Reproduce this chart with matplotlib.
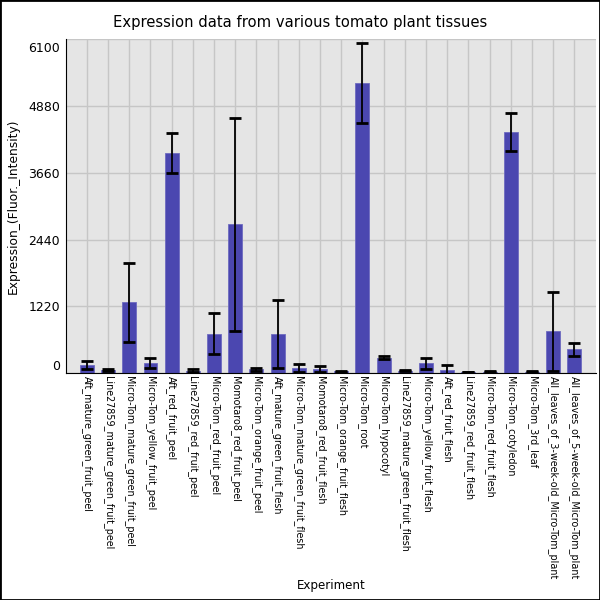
import matplotlib
matplotlib.use("Agg")
import matplotlib.pyplot as plt
import matplotlib.transforms as mtransforms
from matplotlib.patches import Rectangle
import numpy as np

# tissues, mean expression and error
tissues = [
    "Aft_mature_green_fruit_peel",
    "Line27859_mature_green_fruit_peel",
    "Micro-Tom_mature_green_fruit_peel",
    "Micro-Tom_yellow_fruit_peel",
    "Aft_red_fruit_peel",
    "Line27859_red_fruit_peel",
    "Micro-Tom_red_fruit_peel",
    "Momotaro8_red_fruit_peel",
    "Micro-Tom_orange_fruit_peel",
    "Aft_mature_green_fruit_flesh",
    "Micro-Tom_mature_green_fruit_flesh",
    "Momotaro8_red_fruit_flesh",
    "Micro-Tom_orange_fruit_flesh",
    "Micro-Tom_root",
    "Micro-Tom_hypocotyl",
    "Line27859_mature_green_fruit_flesh",
    "Micro-Tom_yellow_fruit_flesh",
    "Aft_red_fruit_flesh",
    "Line27859_red_fruit_flesh",
    "Micro-Tom_red_fruit_flesh",
    "Micro-Tom_cotyledon",
    "Micro-Tom_3rd_leaf",
    "All_leaves_of_3-week-old_Micro-Tom_plant",
    "All_leaves_of_5-week-old_Micro-Tom_plant",
]
means = [150, 60, 1290, 190, 4020, 45, 720, 2720, 70, 720, 90, 75,
         30, 5300, 280, 40, 175, 55, 18, 22, 4400, 24, 760, 430]
errors = [75, 15, 720, 90, 360, 20, 370, 1950, 25, 620, 70, 55,
          10, 730, 25, 10, 105, 85, 6, 6, 350, 5, 720, 115]
yticks = [0, 1220, 2440, 3660, 4880, 6100]

fig = plt.figure(figsize=(6, 6), dpi=100)
ax = fig.add_axes([0.1095, 0.3783, 0.8833, 0.5562])

x = np.arange(len(tissues))
ax.set_facecolor("#e5e5e5")
ax.set_axisbelow(True)
ax.grid(True, color="#c6c6c6", linewidth=1.0)

ax.bar(x, means, width=0.66, color="#4b47b0", edgecolor="#6e6bc0", linewidth=0.6)
ax.errorbar(x, means, yerr=errors, fmt="none", ecolor="black",
            elinewidth=1.3, capsize=4.5, capthick=2)

ax.set_xlim(-1, len(tissues))
ax.set_ylim(0, 6100)
ax.set_yticks(yticks)
ax.set_yticklabels([str(t) for t in yticks], fontsize=9)
ax.set_xticks(x)
ax.set_xticklabels(tissues, rotation=270, fontsize=6.95, ha="center", va="top")
ax.tick_params(axis="both", length=0)
ax.tick_params(axis="y", pad=4)
ax.tick_params(axis="x", pad=2)

ylabs = ax.get_yticklabels()
ylabs[0].set_va("bottom")
ylabs[-1].set_va("top")
shift = mtransforms.ScaledTranslation(0, -3 / 100, fig.dpi_scale_trans)
ylabs[-1].set_transform(ylabs[-1].get_transform() + shift)

for s in ["top", "right"]:
    ax.spines[s].set_visible(False)
ax.spines["left"].set_color("black")
ax.spines["bottom"].set_color("black")

ax.set_ylabel("Expression_(Fluor._Intensity)", fontsize=8.8, labelpad=6)
fig.text(0.552, 0.024, "Experiment", fontsize=8.6, ha="center", va="center")
fig.text(0.5, 0.963, "Expression data from various tomato plant tissues",
         fontsize=10.6, ha="center", va="center")

fig.patches.append(Rectangle((0, 0), 1, 1, transform=fig.transFigure,
                             fill=False, edgecolor="black", linewidth=2))

fig.savefig("out.png", dpi=100)
